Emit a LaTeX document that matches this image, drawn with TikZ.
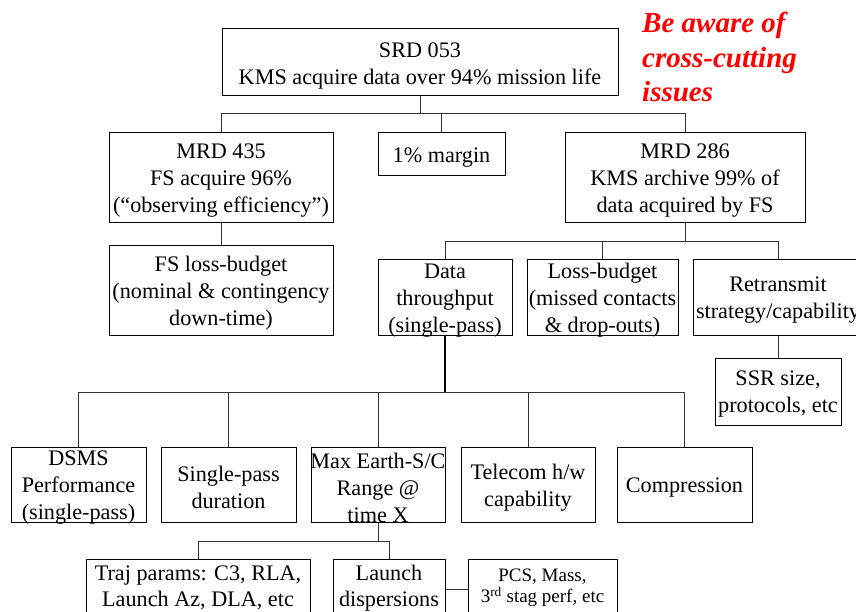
\documentclass[tikz,border=0pt]{standalone}
\usepackage{fontspec}
\setmainfont{Liberation Serif}
\tikzset{
  boxshape/.style={draw=black, line width=1pt, inner sep=0pt, fill=white},
  boxtext/.style={inner sep=0pt, align=center, yshift=-3pt, font=\fontsize{22.2}{27}\selectfont},
  lowtext/.style={inner sep=0pt, align=center, yshift=1pt, font=\fontsize{22.2}{26.5}\selectfont},
  smalltext/.style={inner sep=0pt, align=center, yshift=1pt, font=\fontsize{19}{21.5}\selectfont},
  link/.style={draw=black!80, line width=1pt},
  trunk/.style={draw=black, line width=2pt},
  note/.style={inner sep=0pt, align=left, text=red,
    font=\fontsize{29}{34.5}\selectfont\bfseries\itshape}
}
% \rbox{name}{cx}{cy}{width}{height}{text style}{text}
\newcommand\rbox[7]{%
  \node[boxshape, minimum width=#4pt, minimum height=#5pt] (#1) at (#2,#3) {};
  \node[#6] (#1-t) at (#1.center) {#7};
}
\begin{document}
\begin{tikzpicture}[x=1pt, y=-1pt]
  \useasboundingbox (0,0) rectangle (856,612);
  \clip (0,0) rectangle (856,612);

  % requirement tree
  \rbox{srd}{420}{62.5}{396}{67}{boxtext}{SRD 053\\KMS acquire data over 94\% mission life}
  \rbox{mrdA}{221}{178}{224}{90}{boxtext}{MRD 435\\FS acquire 96\%\\(“observing efficiency”)}
  \rbox{margin}{441.5}{154.5}{127}{43}{boxtext}{1\% margin}
  \rbox{mrdB}{685}{178}{240}{90}{boxtext}{MRD 286\\KMS archive 99\% of\\data acquired by FS}
  \rbox{fsloss}{221}{290.5}{224}{89}{boxtext}{FS loss-budget\\(nominal \& contingency\\down-time)}
  \rbox{thru}{445}{297.5}{134}{75}{boxtext}{Data\\throughput\\(single-pass)}
  \rbox{lossb}{602.5}{297.5}{151}{75}{boxtext}{Loss-budget\\(missed contacts\\\& drop-outs)}
  \rbox{retx}{778}{297.5}{170}{75}{boxtext}{Retransmit\\strategy/capability}
  \rbox{ssr}{778}{391.5}{126}{67}{boxtext}{SSR size,\\protocols, etc}

  \rbox{dsms}{78.5}{484.5}{135}{75}{boxtext}{DSMS\\Performance\\(single-pass)}
  \rbox{spd}{228.5}{484.5}{135}{75}{boxtext}{Single-pass\\duration}
  \rbox{range}{378}{484.5}{134}{75}{boxtext}{Max Earth-S/C\\Range @\\time X}
  \rbox{tel}{528}{484.5}{134}{75}{boxtext}{Telecom h/w\\capability}
  \rbox{comp}{684.5}{484.5}{135}{75}{boxtext}{Compression}

  \rbox{traj}{198}{589}{224}{60}{lowtext}{Traj params: C3, RLA,\\Launch Az, DLA, etc}
  \rbox{launch}{389}{589}{112}{60}{lowtext}{Launch\\dispersions}
  \rbox{pcs}{542.5}{589}{149}{60}{smalltext}{PCS, Mass,\\3\textsuperscript{rd} stag perf, etc}

  % connector levels
  \coordinate (barA) at (0,114);
  \coordinate (barB) at (0,242);
  \coordinate (barC) at (0,392);
  \coordinate (barD) at (0,541);

  \draw[link] (srd.south) -- (srd.south |- barA);
  \draw[link] (mrdA.north) -- (mrdA.north |- barA) -- (mrdB.north |- barA) -- (mrdB.north);
  \draw[link] (margin.north) -- (margin.north |- barA);

  \draw[link] (mrdA.south) -- (fsloss.north);

  \draw[link] (mrdB.south) -- (mrdB.south |- barB);
  \draw[link] (thru.north) -- (thru.north |- barB) -- (retx.north |- barB) -- (retx.north);
  \draw[link] (lossb.north) -- (lossb.north |- barB);

  \draw[link] (retx.south) -- (ssr.north);

  \draw[trunk] (thru.south) -- (thru.south |- barC);
  \draw[link] (dsms.north) -- (dsms.north |- barC) -- (comp.north |- barC) -- (comp.north);
  \draw[link] (spd.north) -- (spd.north |- barC);
  \draw[link] (range.north) -- (range.north |- barC);
  \draw[link] (tel.north) -- (tel.north |- barC);

  \draw[link] (range.south) -- (range.south |- barD);
  \draw[link] (traj.north) -- (traj.north |- barD) -- (launch.north |- barD) -- (launch.north);

  \draw[link] (launch.east) -- (pcs.west);

  % side remark
  \node[note, anchor=north west] (remark) at (642,12) {Be aware of\\cross-cutting\\issues};
\end{tikzpicture}
\end{document}
